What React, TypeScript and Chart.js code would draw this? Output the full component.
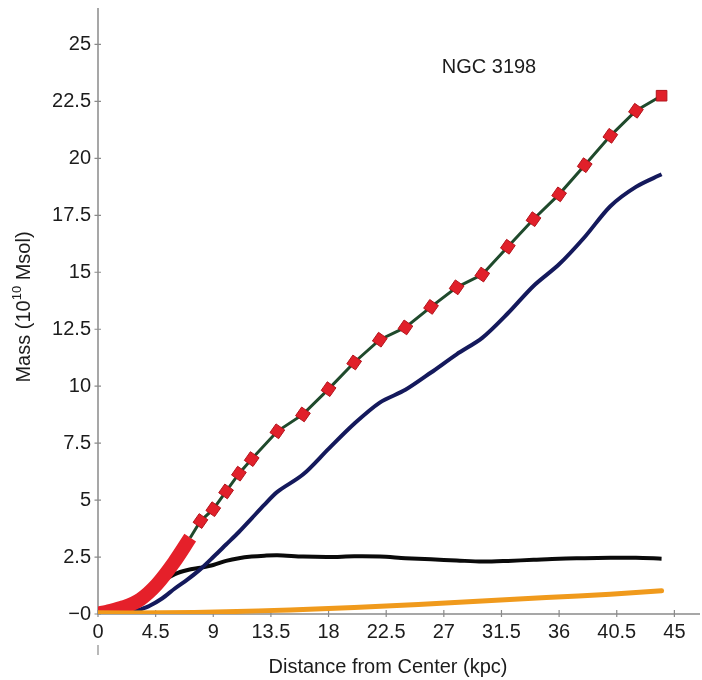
import React, { useEffect, useRef } from 'react';
import { Chart, registerables } from 'chart.js';

Chart.register(...registerables);

const FONT = '"Liberation Sans", Arial, Helvetica, sans-serif';
const TEXT = '#1c1c1c';
const AXIS = '#8a8a8a';

// Tick labels / axis ranges
const X_MAX = 47;
const Y_MAX = 26.6;
const X_STEP = 4.5;
const Y_STEP = 2.5;
const TITLE = 'NGC 3198';
const X_TITLE = 'Distance from Center (kpc)';
const Y_TITLE_PARTS = ['Mass (10', '10', ' Msol)'];

// Observed mass: dense inner band (thick red) then discrete markers
const bandX = [0, 0.7, 2, 3.3, 4.6, 5.9, 7.2];
const bandY = [0.02, 0.1, 0.3, 0.64, 1.3, 2.24, 3.35];
const markerX = [8, 9, 10, 11, 12, 14, 16, 18, 20, 22, 24, 26, 28, 30, 32, 34, 36, 38, 40, 42, 44];
const markerY = [4.08, 4.6, 5.38, 6.16, 6.8, 8.02, 8.76, 9.87, 11.04, 12.04, 12.58, 13.48, 14.34, 14.9, 16.12, 17.33, 18.42, 19.7, 20.99, 22.09, 22.75];

// Navy curve
const navyX = [0, 2, 2.6, 3.3, 4, 5, 6, 7, 8, 9, 10, 11, 12, 13, 14, 16, 18, 20, 22, 24, 26, 28, 30, 32, 34, 36, 38, 40, 42, 44];
const navyY = [0, 0.02, 0.08, 0.2, 0.35, 0.68, 1.12, 1.52, 1.97, 2.5, 3.05, 3.6, 4.2, 4.8, 5.36, 6.12, 7.25, 8.35, 9.28, 9.84, 10.6, 11.4, 12.12, 13.2, 14.4, 15.35, 16.55, 17.9, 18.75, 19.3];

// Black curve
const blackX = [0, 1, 2, 3, 4, 5, 6, 7, 8, 9, 10, 11, 12, 13, 14, 16, 18, 20, 22, 24, 26, 28, 30, 32, 34, 36, 38, 40, 42, 44];
const blackY = [0, 0.05, 0.2, 0.55, 0.98, 1.42, 1.75, 1.93, 2.03, 2.15, 2.33, 2.45, 2.52, 2.56, 2.58, 2.52, 2.5, 2.53, 2.52, 2.45, 2.4, 2.35, 2.3, 2.33, 2.38, 2.43, 2.45, 2.47, 2.47, 2.43];

// Orange curve
const orangeX = [0, 5, 10, 15, 20, 25, 30, 35, 40, 44];
const orangeY = [0.05, 0.05, 0.1, 0.18, 0.28, 0.42, 0.57, 0.72, 0.87, 1.02];

const pts = (xs: number[], ys: number[]) => xs.map((x, i) => ({ x, y: ys[i] }));

const fmt = (v: number) => (v === 0 ? '0' : String(Math.round(v * 10) / 10));

const axesPlugin = {
  id: 'customAxes',
  beforeDatasetsDraw(chart: any) {
    const { ctx, chartArea, scales } = chart;
    const xs = scales.x;
    const ys = scales.y;
    const x0 = xs.getPixelForValue(0);
    const y0 = ys.getPixelForValue(0);
    ctx.save();
    ctx.strokeStyle = AXIS;
    ctx.lineWidth = 1.5;
    ctx.beginPath();
    ctx.moveTo(x0, chartArea.top);
    ctx.lineTo(x0, y0);
    ctx.lineTo(chartArea.right, y0);
    ctx.stroke();
    ctx.lineWidth = 1.2;
    ctx.beginPath();
    ys.ticks.forEach((t: any) => {
      const py = ys.getPixelForValue(t.value);
      ctx.moveTo(x0 - 3.5, py);
      ctx.lineTo(x0 + 3, py);
    });
    xs.ticks.forEach((t: any) => {
      const px = xs.getPixelForValue(t.value);
      ctx.moveTo(px, y0 - 4);
      ctx.lineTo(px, y0 + 3);
    });
    ctx.moveTo(x0, y0 + 31);
    ctx.lineTo(x0, y0 + 41);
    ctx.stroke();
    ctx.restore();
  },
};

const textPlugin = {
  id: 'customText',
  afterDraw(chart: any) {
    const { ctx } = chart;
    ctx.save();
    ctx.fillStyle = TEXT;
    ctx.textBaseline = 'middle';
    ctx.textAlign = 'center';
    ctx.font = `20px ${FONT}`;
    ctx.fillText(TITLE, 489, 67);
    ctx.fillText(X_TITLE, 388, 667);

    // rotated y title with superscript
    ctx.translate(23, 307);
    ctx.rotate(-Math.PI / 2);
    ctx.textAlign = 'left';
    const big = `20px ${FONT}`;
    const small = `13px ${FONT}`;
    ctx.font = big;
    const w0 = ctx.measureText(Y_TITLE_PARTS[0]).width;
    const w2 = ctx.measureText(Y_TITLE_PARTS[2]).width;
    ctx.font = small;
    const w1 = ctx.measureText(Y_TITLE_PARTS[1]).width;
    const total = w0 + w1 + w2;
    let cx = -total / 2;
    ctx.font = big;
    ctx.fillText(Y_TITLE_PARTS[0], cx, 1);
    cx += w0;
    ctx.font = small;
    ctx.fillText(Y_TITLE_PARTS[1], cx, -6);
    cx += w1;
    ctx.font = big;
    ctx.fillText(Y_TITLE_PARTS[2], cx, 1);
    ctx.restore();
  },
};

export default function App() {
  const ref = useRef<HTMLCanvasElement>(null);

  useEffect(() => {
    document.body.style.margin = '0';
    const canvas = ref.current;
    if (!canvas) return;
    const lastBand = { x: bandX[bandX.length - 1], y: bandY[bandY.length - 1] };
    const observed = [lastBand, ...pts(markerX, markerY)];

    const chart = new Chart(canvas, {
      type: 'line',
      data: {
        datasets: [
          {
            label: 'orange',
            data: pts(orangeX, orangeY),
            borderColor: '#f09a1c',
            borderWidth: 5,
            pointRadius: 0,
            tension: 0.3,
            borderCapStyle: 'round',
            order: 0,
          },
          {
            label: 'observed',
            data: observed,
            borderColor: '#1f4a2c',
            borderWidth: 3,
            pointStyle: 'rect',
            pointRadius: (c: any) => (c.dataIndex === 0 ? 0 : 7.5),
            pointRotation: (c: any) => (c.dataIndex === observed.length - 1 ? 0 : 35),
            pointBackgroundColor: '#e1202a',
            pointBorderColor: '#b3141c',
            pointBorderWidth: 1,
            tension: 0,
            order: 1,
          },
          {
            label: 'band',
            data: pts(bandX, bandY),
            borderColor: '#e5202a',
            borderWidth: 14,
            pointRadius: 0,
            tension: 0.35,
            borderCapStyle: 'butt',
            order: 2,
          },
          {
            label: 'navy',
            data: pts(navyX, navyY),
            borderColor: '#14195c',
            borderWidth: 4,
            pointRadius: 0,
            tension: 0.3,
            order: 3,
          },
          {
            label: 'black',
            data: pts(blackX, blackY),
            borderColor: '#0a0a0a',
            borderWidth: 4,
            pointRadius: 0,
            tension: 0.3,
            order: 4,
          },
        ],
      },
      options: {
        animation: false,
        responsive: false,
        devicePixelRatio: 1,
        layout: { autoPadding: false, padding: { top: 8, right: 2, left: 0, bottom: 0 } },
        plugins: {
          legend: { display: false },
          tooltip: { enabled: false },
          title: { display: false },
        },
        scales: {
          x: {
            type: 'linear',
            min: 0,
            max: X_MAX,
            grid: { display: false, drawTicks: false },
            border: { display: false },
            ticks: {
              stepSize: X_STEP,
              includeBounds: false,
              autoSkip: false,
              maxRotation: 0,
              padding: 6,
              color: TEXT,
              font: { family: FONT, size: 20 },
              callback: (v: any) => fmt(Number(v)),
            },
            afterFit: (s: any) => {
              s.height = 66;
              s.paddingLeft = 0;
              s.paddingRight = 0;
            },
          },
          y: {
            type: 'linear',
            min: 0,
            max: Y_MAX,
            grid: { display: false, drawTicks: false },
            border: { display: false },
            ticks: {
              stepSize: Y_STEP,
              includeBounds: false,
              autoSkip: false,
              padding: 7,
              color: TEXT,
              font: { family: FONT, size: 20 },
              callback: (v: any) => (Number(v) === 0 ? '\u22120' : fmt(Number(v))),
            },
            afterFit: (s: any) => {
              s.width = 98;
              s.paddingTop = 0;
              s.paddingBottom = 0;
            },
          },
        },
      } as any,
      plugins: [axesPlugin, textPlugin],
    });
    return () => chart.destroy();
  }, []);

  return (
    <div style={{ position: 'relative', width: 702, height: 680 }}>
      <canvas ref={ref} width={702} height={680} style={{ display: 'block', width: 702, height: 680 }} />
    </div>
  );
}
